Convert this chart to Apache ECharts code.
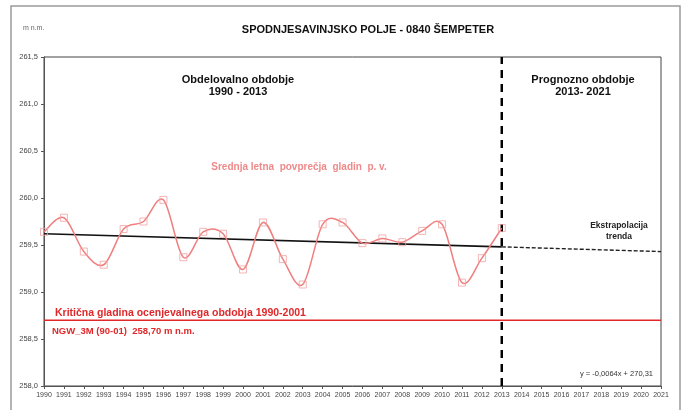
<!DOCTYPE html>
<html>
<head>
<meta charset="utf-8">
<script src="https://cdn.jsdelivr.net/npm/echarts@6/dist/echarts.min.js"></script>
<style>
html,body{margin:0;padding:0;background:#fff;}
#chart{width:684px;height:410px;}
</style>
</head>
<body>
<div id="chart"></div>
<script>
// ---- data ----
var years = [1990,1991,1992,1993,1994,1995,1996,1997,1998,1999,2000,2001,2002,2003,2004,2005,2006,2007,2008,2009,2010,2011,2012,2013];
var levels = [259.64,259.79,259.43,259.29,259.67,259.75,259.98,259.37,259.64,259.62,259.24,259.74,259.35,259.08,259.72,259.74,259.52,259.57,259.53,259.65,259.72,259.10,259.36,259.68];
var trendYears = [1990, 2013];
var trendValues = [259.62, 259.48];
var extrapYears = [2013, 2021];
var extrapValues = [259.48, 259.43];
var criticalYears = [1990, 2021];
var criticalValues = [258.70, 258.70];
var splitYear = 2013;
var yTicks = {min: 258.0, max: 261.5, step: 0.5};
var xTicks = {min: 1990, max: 2021, step: 1};

function pairs(xs, ys){ return xs.map(function(x,i){ return [x, ys[i]]; }); }
var levelData = pairs(years, levels);

var FONT = '"Liberation Sans", Arial, sans-serif';
var chart = echarts.init(document.getElementById('chart'), null, {renderer:'canvas'});

// Smooth curve (Catmull-Rom style, like a spreadsheet "smoothed line"), through points placed by the axes
function renderSmooth(params, api){
  if (params.dataIndex !== 0) return null;
  var pts = levelData.map(function(d){ return api.coord(d); });
  var n = pts.length;
  function P(i){ return pts[Math.max(0, Math.min(n-1, i))]; }
  var d = 'M' + pts[0][0] + ' ' + pts[0][1];
  for (var i = 0; i < n-1; i++){
    var p0 = P(i-1), p1 = P(i), p2 = P(i+1), p3 = P(i+2);
    var c1x = p1[0] + (p2[0]-p0[0])/6, c1y = p1[1] + (p2[1]-p0[1])/6;
    var c2x = p2[0] - (p3[0]-p1[0])/6, c2y = p2[1] - (p3[1]-p1[1])/6;
    d += ' C' + c1x + ' ' + c1y + ' ' + c2x + ' ' + c2y + ' ' + p2[0] + ' ' + p2[1];
  }
  return {type: 'path', shape: {pathData: d}, style: {fill: 'none', stroke: '#ef7f7f', lineWidth: 1.5}};
}

var option = {
  backgroundColor: '#fff',
  animation: false,
  textStyle: {fontFamily: FONT},
  grid: {left: 44, right: 23, top: 57, bottom: 24, show: true, borderColor: '#444', borderWidth: 1, backgroundColor: 'transparent'},
  xAxis: {
    type: 'value', min: xTicks.min, max: xTicks.max, interval: xTicks.step,
    axisLine: {show: true, lineStyle: {color: '#555', width: 1}},
    axisTick: {show: true, length: 3, inside: false, lineStyle: {color: '#555'}},
    splitLine: {show: false},
    axisLabel: {fontSize: 7, color: '#444', margin: 6, showMinLabel: true, showMaxLabel: true, formatter: function(v){ return String(v); }}
  },
  yAxis: {
    type: 'value', min: yTicks.min, max: yTicks.max, interval: yTicks.step,
    axisLine: {show: true, lineStyle: {color: '#555', width: 1}},
    axisTick: {show: true, length: 3, lineStyle: {color: '#555'}},
    splitLine: {show: false},
    axisLabel: {fontSize: 7.5, color: '#444', margin: 6, formatter: function(v){ return v.toFixed(1).replace('.', ','); }}
  },
  series: [
    {
      name: 'critical', type: 'line', data: pairs(criticalYears, criticalValues),
      symbol: 'none', lineStyle: {color: '#e0282a', width: 1.6}, z: 2, silent: true
    },
    {
      name: 'trend', type: 'line', data: pairs(trendYears, trendValues),
      symbol: 'none', lineStyle: {color: '#111', width: 1.6}, z: 3, silent: true
    },
    {
      name: 'extrap', type: 'line', data: pairs(extrapYears, extrapValues),
      symbol: 'none', lineStyle: {color: '#222', width: 1.4, type: [4, 2]}, z: 3, silent: true
    },
    {
      name: 'split', type: 'line', data: [[splitYear, yTicks.min], [splitYear, yTicks.max]],
      symbol: 'none', lineStyle: {color: '#000', width: 2.5, type: [8, 6]}, z: 4, silent: true
    },
    {
      name: 'levelsCurve', type: 'custom', data: levelData, renderItem: renderSmooth, z: 5, silent: true,
      encode: {x: 0, y: 1}
    },
    {
      name: 'levels', type: 'scatter', data: levelData,
      symbol: 'rect', symbolSize: 7,
      itemStyle: {color: 'rgba(255,255,255,0)', borderColor: '#f3a3a3', borderWidth: 1},
      z: 6, silent: true
    }
  ],
  graphic: [
    {type: 'rect', shape: {x: 11, y: 6, width: 669, height: 420}, style: {fill: 'none', stroke: '#9a9a9a', lineWidth: 1.5}, silent: true},
    {type: 'text', left: 23, top: 25, style: {text: 'm n.m.', font: '7px ' + FONT, fill: '#666'}},
    {type: 'text', x: 368, y: 30, style: {text: 'SPODNJESAVINJSKO POLJE - 0840 ŠEMPETER', font: 'bold 11px ' + FONT, fill: '#111', textAlign: 'center', textVerticalAlign: 'middle'}},
    {type: 'text', x: 238, y: 86, style: {text: 'Obdelovalno obdobje\n1990 - 2013', font: 'bold 11px ' + FONT, fill: '#111', textAlign: 'center', textVerticalAlign: 'middle', lineHeight: 12}},
    {type: 'text', x: 583, y: 86, style: {text: 'Prognozno obdobje\n2013- 2021', font: 'bold 11px ' + FONT, fill: '#111', textAlign: 'center', textVerticalAlign: 'middle', lineHeight: 12}},
    {type: 'text', x: 299, y: 167, style: {text: 'Srednja letna  povprečja  gladin  p. v.', font: 'bold 10px ' + FONT, fill: '#ee8a8a', textAlign: 'center', textVerticalAlign: 'middle'}},
    {type: 'text', x: 619, y: 231, style: {text: 'Ekstrapolacija\ntrenda', font: 'bold 8.5px ' + FONT, fill: '#222', textAlign: 'center', textVerticalAlign: 'middle', lineHeight: 11}},
    {type: 'text', x: 55, y: 313, style: {text: 'Kritična gladina ocenjevalnega obdobja 1990-2001', font: 'bold 10.5px ' + FONT, fill: '#e0282a', textAlign: 'left', textVerticalAlign: 'middle'}},
    {type: 'text', x: 52, y: 331, style: {text: 'NGW_3M (90-01)  258,70 m n.m.', font: 'bold 9.5px ' + FONT, fill: '#e0282a', textAlign: 'left', textVerticalAlign: 'middle'}},
    {type: 'text', x: 653, y: 374, style: {text: 'y = -0,0064x + 270,31', font: '7.5px ' + FONT, fill: '#333', textAlign: 'right', textVerticalAlign: 'middle'}}
  ]
};
chart.setOption(option);
</script>
</body>
</html>
